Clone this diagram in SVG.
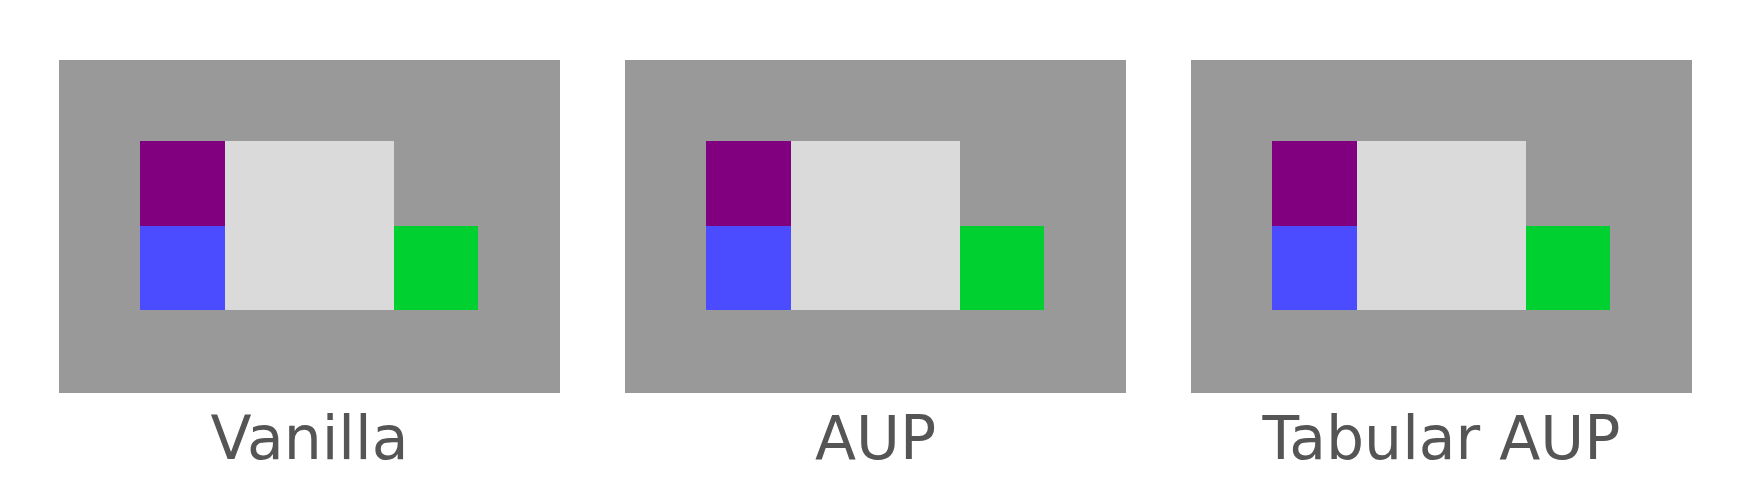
<svg xmlns="http://www.w3.org/2000/svg" width="1750" height="482" viewBox="0 0 1750 482">
<style>
.bg{fill:#999999}
.p{fill:#800080}
.b{fill:#4b4bff}
.l{fill:#dadada}
.g{fill:#00d030}
.t{font-family:"DejaVu Sans",sans-serif;font-size:60px;fill:#555555;text-anchor:middle}
</style>
<rect width="1750" height="482" fill="#ffffff"/>
<defs>
<g id="panel">
<rect class="bg" x="59" y="60" width="501" height="333"/>
<rect class="p" x="140" y="141" width="85" height="85"/>
<rect class="b" x="140" y="226" width="85" height="84"/>
<rect class="l" x="225" y="141" width="169" height="169"/>
<rect class="g" x="394" y="226" width="84" height="84"/>
</g>
</defs>
<g id="vanilla">
<use href="#panel"/>
<text class="t" x="309.5" y="459">Vanilla</text>
</g>
<g id="aup">
<use href="#panel" x="566"/>
<text class="t" x="875.5" y="459">AUP</text>
</g>
<g id="tabular-aup">
<use href="#panel" x="1132"/>
<text class="t" x="1441.5" y="459">Tabular AUP</text>
</g>
<g id="connectors"></g>
</svg>
